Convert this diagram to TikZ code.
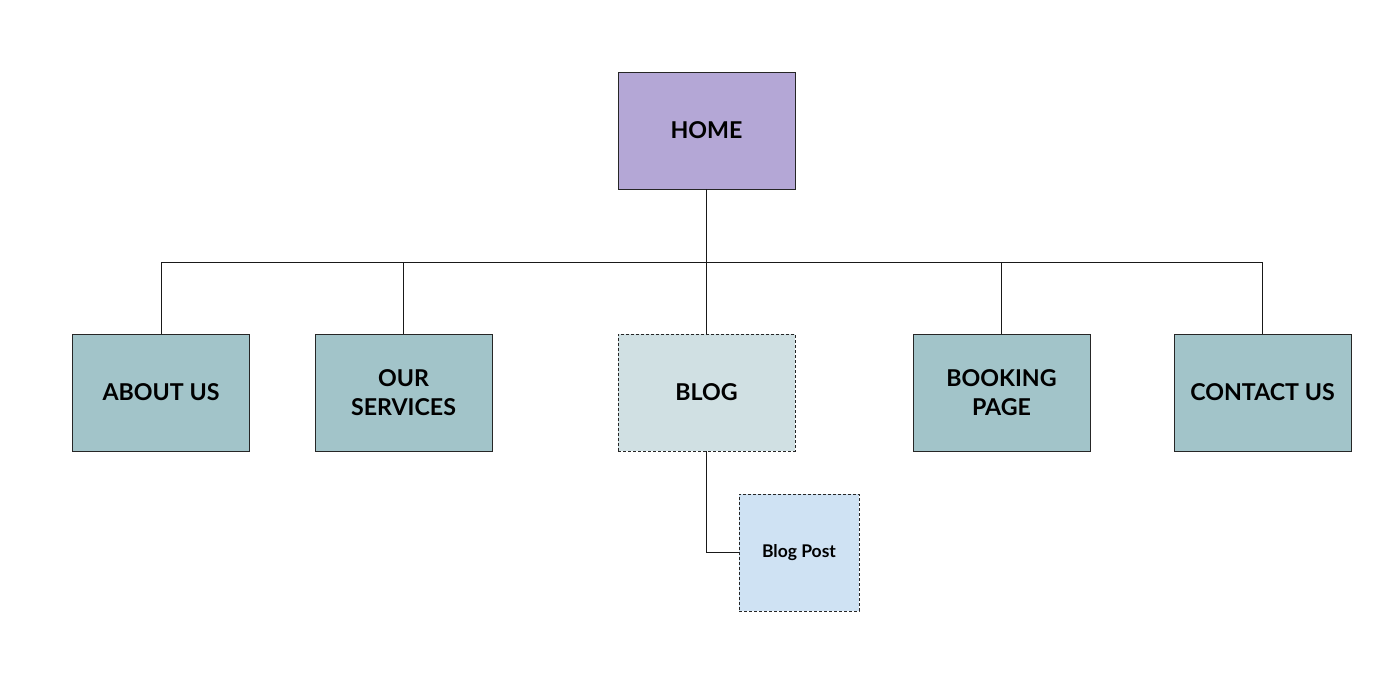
\documentclass[tikz,border=0pt]{standalone}
\usepackage{fontspec}
\setmainfont{Lato}[UprightFont=* Bold]
\definecolor{homec}{HTML}{B4A7D6}
\definecolor{tealc}{HTML}{A2C4C9}
\definecolor{blogc}{HTML}{D0E0E3}
\definecolor{postc}{HTML}{CFE2F3}
\begin{document}
\begin{tikzpicture}[x=1pt,y=-1pt,
  box/.style={draw=black!85, line width=0.9pt, minimum width=177pt, minimum height=117pt, inner sep=0pt,
    align=center, font=\fontsize{23.2}{29}\selectfont, text=black},
  dbox/.style={box, dash pattern=on 3pt off 2pt},
  conn/.style={draw=black!90, line width=0.9pt}]
\useasboundingbox (0,0) rectangle (1379,693);
\fill[white] (0,0) rectangle (1379,693);
\node[box, fill=homec] (home) at (706.5,130.5) {HOME};
\node[box, fill=tealc] (about) at (161,392.5) {ABOUT US};
\node[box, fill=tealc] (serv) at (403.5,392.5) {OUR\\SERVICES};
\node[dbox, fill=blogc] (blog) at (706.5,392.5) {BLOG};
\node[box, fill=tealc] (book) at (1001.5,392.5) {BOOKING\\PAGE};
\node[box, fill=tealc] (contact) at (1262.5,392.5) {CONTACT US};
\node[dbox, fill=postc, minimum width=120pt, font=\fontsize{17.5}{21}\selectfont] (post) at (799,552.5) {Blog Post};
\coordinate (bus) at (706.5,262);
\draw[conn] (home.south) -- (bus);
\draw[conn] (about.north) |- (bus);
\draw[conn] (serv.north) |- (bus);
\draw[conn] (blog.north) -- (bus);
\draw[conn] (book.north) |- (bus);
\draw[conn] (contact.north) |- (bus);
\draw[conn] (blog.south) |- (post.west);
\end{tikzpicture}
\end{document}
